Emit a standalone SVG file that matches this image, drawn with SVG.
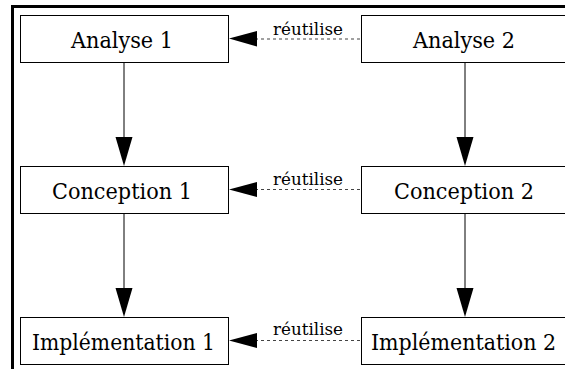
<svg xmlns="http://www.w3.org/2000/svg" width="565" height="369" viewBox="0 0 565 369">
<style>
.box{fill:#fff;stroke:#000;stroke-width:1}
text{fill:#000;text-anchor:middle;font-family:'DejaVu Serif','Liberation Serif',serif}
.lbl{font-size:22.5px}
.sm{font-size:16px}
.solid{stroke:#000;stroke-width:1;fill:none}
.dash{stroke:#444;stroke-width:1.2;stroke-dasharray:3 3;fill:none}
.head{fill:#000}
</style>
<rect x="0" y="0" width="565" height="369" fill="#fff"/>
<path d="M12.5 370 V6.5 H566" fill="none" stroke="#000" stroke-width="3"/>
<g id="connectors">
<line class="solid" x1="124" y1="62" x2="124" y2="140"/>
<polygon class="head" points="115.5,137 132.5,137 124,166"/>
<line class="solid" x1="124" y1="213" x2="124" y2="291"/>
<polygon class="head" points="115.5,288 132.5,288 124,317"/>
<line class="solid" x1="465" y1="62" x2="465" y2="140"/>
<polygon class="head" points="456.5,137 473.5,137 465,166"/>
<line class="solid" x1="465" y1="213" x2="465" y2="291"/>
<polygon class="head" points="456.5,288 473.5,288 465,317"/>
<line class="dash" x1="255" y1="39" x2="361" y2="39"/>
<polygon class="head" points="257,31 257,46.5 229,38.5"/>
<text class="sm" x="308" y="35" textLength="70" lengthAdjust="spacingAndGlyphs">réutilise</text>
<line class="dash" x1="255" y1="189.5" x2="361" y2="189.5"/>
<polygon class="head" points="257,182 257,197 229,189.5"/>
<text class="sm" x="308" y="185" textLength="70" lengthAdjust="spacingAndGlyphs">réutilise</text>
<line class="dash" x1="255" y1="340.5" x2="361" y2="340.5"/>
<polygon class="head" points="257,333 257,348 229,340.5"/>
<text class="sm" x="308" y="335" textLength="70" lengthAdjust="spacingAndGlyphs">réutilise</text>
</g>
<g id="analyse1"><rect class="box" x="20.5" y="15.5" width="208" height="47"/><text class="lbl" x="122" y="47.5" textLength="102" lengthAdjust="spacingAndGlyphs">Analyse 1</text></g>
<g id="analyse2"><rect class="box" x="361.5" y="15.5" width="208" height="47"/><text class="lbl" x="464" y="47.5" textLength="102" lengthAdjust="spacingAndGlyphs">Analyse 2</text></g>
<g id="conception1"><rect class="box" x="20.5" y="166.5" width="208" height="47"/><text class="lbl" x="122" y="199" textLength="140" lengthAdjust="spacingAndGlyphs">Conception 1</text></g>
<g id="conception2"><rect class="box" x="361.5" y="166.5" width="208" height="47"/><text class="lbl" x="464" y="199" textLength="140" lengthAdjust="spacingAndGlyphs">Conception 2</text></g>
<g id="implementation1"><rect class="box" x="20.5" y="317.5" width="208" height="47"/><text class="lbl" x="123.5" y="349.5" textLength="183" lengthAdjust="spacingAndGlyphs">Implémentation 1</text></g>
<g id="implementation2"><rect class="box" x="361.5" y="317.5" width="208" height="47"/><text class="lbl" x="463.5" y="349.5" textLength="185" lengthAdjust="spacingAndGlyphs">Implémentation 2</text></g>
</svg>
